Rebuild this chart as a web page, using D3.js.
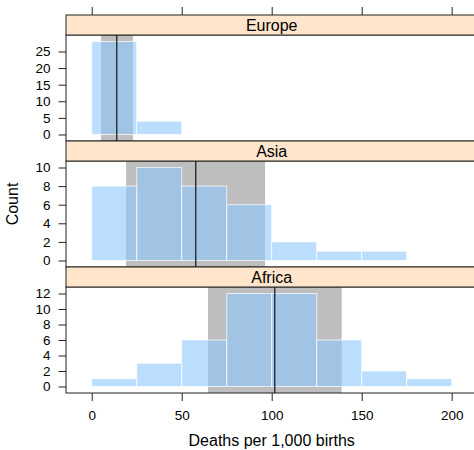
<!DOCTYPE html>
<html>
<head>
<meta charset="utf-8">
<script src="https://cdn.jsdelivr.net/npm/d3@7"></script>
<style>
  body { margin: 0; background: #fff; }
  text { font-family: "Liberation Sans", Arial, Helvetica, sans-serif; fill: #000; }
</style>
</head>
<body>
<div id="chart"></div>
<script>
// data
var regions = ["Europe", "Asia", "Africa"];
var binEdges = [0, 25, 50, 75, 100, 125, 150, 175, 200];
var europeCounts = [28, 4, 0, 0, 0, 0, 0, 0];
var asiaCounts = [8, 10, 8, 6, 2, 1, 1, 0];
var africaCounts = [1, 3, 6, 12, 12, 6, 2, 1];
var lowerQuartile = [5.2, 19.1, 64.6];
var upperQuartile = [22.9, 96.3, 138.9];
var medians = [13.9, 57.8, 101.7];
var europeTicks = [0, 5, 10, 15, 20, 25];
var asiaTicks = [0, 2, 4, 6, 8, 10];
var africaTicks = [0, 2, 4, 6, 8, 10, 12];
var xTicks = [0, 50, 100, 150, 200];

var allCounts = [europeCounts, asiaCounts, africaCounts];
var allTicks = [europeTicks, asiaTicks, africaTicks];

// canvas
var svgWidth = 474;
var svgHeight = 450;
var panelLeft = 66, panelRight = 477.4;
var marginTop = 15;
var stripH = 20, panelH = 106;

var svg = d3.select("#chart").append("svg")
  .attr("width", svgWidth)
  .attr("height", svgHeight);

var x = d3.scaleLinear()
  .domain([-14.3, 214.3])
  .range([panelLeft, panelRight]);

regions.forEach(function(name, i) {
  var stripY = marginTop + i * (stripH + panelH);
  var panelY = stripY + stripH;
  var counts = allCounts[i];
  var maxC = d3.max(counts);

  var y = d3.scaleLinear()
    .domain([-0.07 * maxC, 1.07 * maxC])
    .range([panelY + panelH, panelY]);

  var g = svg.append("g");

  // interquartile band
  g.append("rect")
    .attr("x", x(lowerQuartile[i]))
    .attr("y", panelY)
    .attr("width", x(upperQuartile[i]) - x(lowerQuartile[i]))
    .attr("height", panelH)
    .attr("fill", "#bebebe");

  // bars
  var bins = counts.map(function(c, j) { return { x0: binEdges[j], x1: binEdges[j + 1], n: c }; })
    .filter(function(d) { return d.n > 0; });

  g.selectAll("rect.bar")
    .data(bins)
    .enter()
    .append("rect")
    .attr("class", "bar")
    .attr("x", d => x(d.x0))
    .attr("y", d => y(d.n))
    .attr("width", d => x(d.x1) - x(d.x0))
    .attr("height", d => y(0) - y(d.n))
    .attr("fill", "#8ec8ff")
    .attr("fill-opacity", 0.6)
    .attr("stroke", "#fff")
    .attr("stroke-opacity", 0.7)
    .attr("stroke-width", 1);

  // median line
  g.append("line")
    .attr("x1", x(medians[i])).attr("x2", x(medians[i]))
    .attr("y1", panelY).attr("y2", panelY + panelH)
    .attr("stroke", "#222")
    .attr("stroke-width", 1.3);

  // panel frame
  g.append("rect")
    .attr("x", panelLeft).attr("y", panelY)
    .attr("width", panelRight - panelLeft).attr("height", panelH)
    .attr("fill", "none")
    .attr("stroke", "#222");

  // strip
  g.append("rect")
    .attr("x", panelLeft).attr("y", stripY)
    .attr("width", panelRight - panelLeft).attr("height", stripH)
    .attr("fill", "#ffe5cc")
    .attr("stroke", "#222");

  g.append("text")
    .attr("x", (panelLeft + panelRight) / 2)
    .attr("y", stripY + stripH / 2)
    .attr("dy", "0.35em")
    .attr("text-anchor", "middle")
    .style("font-size", "16px")
    .text(name);

  // left axis
  var leftAxis = d3.axisLeft(y)
    .tickValues(allTicks[i])
    .tickSize(7.5)
    .tickPadding(8);
  var ag = g.append("g")
    .attr("transform", `translate(${panelLeft}, 0)`)
    .call(leftAxis);
  ag.select(".domain").remove();
  ag.selectAll("line").attr("stroke", "#222");
  ag.selectAll("text")
    .style("font-size", "13.5px")
    .style("font-family", "Liberation Sans, Arial, sans-serif");
});

// top ticks (no labels)
var topAxis = d3.axisTop(x).tickValues(xTicks).tickSize(8).tickFormat("");
var tg = svg.append("g")
  .attr("transform", `translate(0, ${marginTop})`)
  .call(topAxis);
tg.select(".domain").remove();
tg.selectAll("line").attr("stroke", "#222");

// bottom axis
var bottomY = marginTop + 3 * (stripH + panelH);
var bottomAxis = d3.axisBottom(x).tickValues(xTicks).tickSize(8).tickPadding(9);
var bg = svg.append("g")
  .attr("transform", `translate(0, ${bottomY})`)
  .call(bottomAxis);
bg.select(".domain").remove();
bg.selectAll("line").attr("stroke", "#222");
bg.selectAll("text")
  .style("font-size", "13.5px")
  .style("font-family", "Liberation Sans, Arial, sans-serif");

// axis labels
svg.append("text")
  .attr("transform", `translate(18, ${marginTop + 1.5 * (stripH + panelH)}) rotate(-90)`)
  .attr("text-anchor", "middle")
  .style("font-size", "16px")
  .text("Count");

svg.append("text")
  .attr("x", (x(0) + x(200)) / 2)
  .attr("y", 446)
  .attr("text-anchor", "middle")
  .style("font-size", "16px")
  .text("Deaths per 1,000 births");
</script>
</body>
</html>
